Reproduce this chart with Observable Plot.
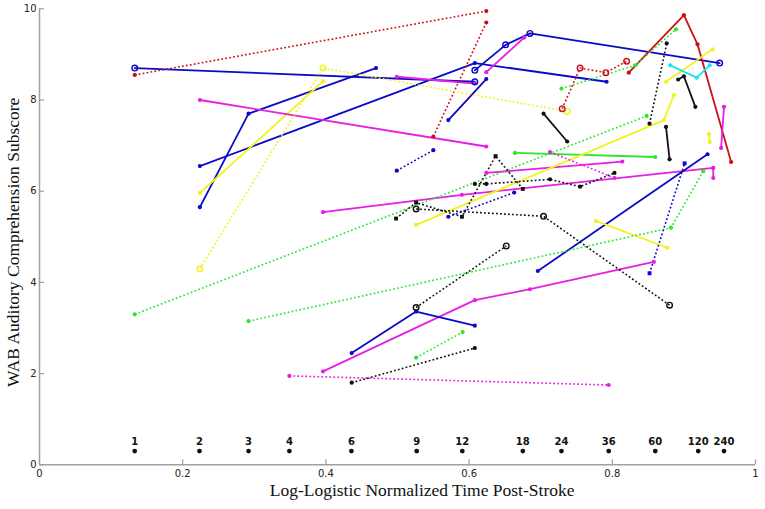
<!DOCTYPE html>
<html><head><meta charset="utf-8">
<script src="https://cdn.jsdelivr.net/npm/d3@7"></script>
<script src="https://cdn.jsdelivr.net/npm/@observablehq/plot@0.6"></script>
<style>body{margin:0;background:#fff}#chart svg{display:block}</style>
</head><body><div id="chart"></div>
<script>
// Each series (patient trajectory): x = normalized time, y = WAB subscore
const seriesX = [
  [0.133,0.624],[0.550,0.624],[0.133,0.608],[0.224,0.608,0.792],
  [0.608,0.651,0.685,0.950],[0.571,0.624],[0.624,0.677],[0.224,0.292,0.470],
  [0.224,0.396],[0.224,0.396,0.737],[0.224,0.624],[0.396,0.590,0.941,0.941],
  [0.133,0.848],[0.292,0.882,0.927],[0.526,0.591],[0.436,0.608],
  [0.349,0.795],[0.396,0.608,0.685,0.858],[0.852,0.901],[0.436,0.526,0.608],
  [0.526,0.652],[0.696,0.933],[0.498,0.526,0.590,0.637,0.675],[0.526,0.704,0.880],
  [0.608,0.624,0.713,0.755,0.803],[0.624,0.814],[0.713,0.803],[0.664,0.860],
  [0.526,0.872,0.886],[0.571,0.663],[0.499,0.550],[0.704,0.737],
  [0.730,0.755,0.791,0.820],[0.729,0.832,0.889],[0.823,0.900,0.919,0.966],[0.852,0.876],
  [0.875,0.940],[0.881,0.918,0.936],[0.892,0.900,0.916],[0.875,0.880],
  [0.935,0.936],[0.956,0.952],[0.777,0.877],[0.499,0.608]
];
const seriesY = [
  [8.55,9.95],[7.20,9.70],[8.70,8.40],[6.55,8.81,8.40],
  [8.65,9.21,9.46,8.81],[7.56,8.46],[8.61,9.37],[5.65,7.70,8.70],
  [5.96,8.41],[4.30,8.70,7.75],[8.00,6.98],[5.54,5.92,6.51,6.29],
  [3.30,7.65],[3.15,5.20,6.44],[2.35,2.91],[1.80,2.56],
  [1.95,1.75],[2.05,3.61,3.85,4.45],[4.20,6.61],[2.45,3.36,3.05],
  [3.45,4.80],[4.25,6.81],[5.40,5.75,5.44,6.77,6.05],[5.61,5.45,3.50],
  [6.16,6.16,6.26,6.10,6.40],[6.40,6.65],[6.86,6.29],[6.84,6.75],
  [5.26,7.56,8.11],[5.44,5.97],[6.45,6.90],[7.70,7.09],
  [7.81,8.70,8.60,8.85],[8.25,8.76,9.55],[8.60,9.86,9.22,6.64],[7.48,9.24],
  [8.40,9.11],[8.76,8.49,8.76],[8.45,8.52,7.85],[7.41,6.70],
  [7.25,7.08],[7.85,6.95],[5.35,4.76],[8.51,8.36]
];
// colour groups: R red, B blue, M magenta, Y yellow, G green, K black, C cyan
const seriesColor = [
  "R","R","B","B","B","B","M","B",
  "Y","Y","M","M","G","G","G","K",
  "M","M","B","B","K","B","K","K",
  "K","M","M","G","Y","B","B","K",
  "R","G","R","K","Y","C","K","K",
  "Y","M","Y","M"
];
const seriesLine = [
  "dotted","dotted","solid","solid","solid","solid","solid","solid",
  "solid","dotted","solid","solid","dotted","dotted","dotted","dotted",
  "dotted","solid","dotted","solid","dotted","solid","dotted","dotted",
  "dotted","solid","dotted","solid","solid","dotted","dotted","solid",
  "dotted","dotted","solid","dotted","solid","solid","solid","solid",
  "solid","solid","solid","solid"
];
const seriesMarker = [
  "dot","dot","circle","dot","circle","dot","dot","dot",
  "dot","circle","dot","dot","dot","dot","dot","dot",
  "dot","dot","square","dot","circle","dot","square","circle",
  "dot","dot","dot","dot","dot","dot","dot","dot",
  "circle","dot","dot","dot","dot","dot","dot","dot",
  "dot","dot","dot","dot"
];
const colorNames = ["R","B","M","Y","G","K","C"];
const colorValues = ["#cc1018","#0a0ac8","#e61ee6","#f2f21c","#2ee62e","#111111","#1ae4f2"];

const timeLabels = ["1","2","3","4","6","9","12","18","24","36","60","120","240"];
const timePos = [0.133,0.2234,0.292,0.349,0.4356,0.5268,0.5905,0.675,0.729,0.795,0.86,0.92,0.956];
const timeMarkY = 0.3;

const xTicks = [0,0.2,0.4,0.6,0.8,1];
const yTicks = [0,2,4,6,8,10];
const xTitle = "Log-Logistic Normalized Time Post-Stroke";
const yTitle = "WAB Auditory Comprehension Subscore";

const rows = seriesX.flatMap((xs,i)=>xs.map((x,j)=>({id:i,x,y:seriesY[i][j],c:seriesColor[i],l:seriesLine[i],m:seriesMarker[i]})));
const timeRows = timeLabels.map((t,i)=>({t,x:timePos[i],y:timeMarkY}));
const sans = "DejaVu Sans, sans-serif";
const serif = "Liberation Serif, Times New Roman, serif";

const chart = Plot.plot({
  width: 765, height: 509,
  marginLeft: 39, marginRight: 10, marginTop: 8.3, marginBottom: 44.7,
  style: {background:"#fff", fontFamily: sans, overflow:"visible"},
  x: {domain:[0,1], axis:null},
  y: {domain:[0,10], axis:null},
  color: {type:"ordinal", domain: colorNames, range: colorValues},
  marks: [
    Plot.ruleY([0], {stroke:"#a0a0a0", strokeWidth:1.5}),
    Plot.ruleX([0], {stroke:"#a0a0a0", strokeWidth:1.5}),
    Plot.axisX(xTicks, {tickSize:-5, text:null, stroke:"#a0a0a0", strokeWidth:1.2, label:null}),
    Plot.axisY(yTicks, {tickSize:-5, text:null, stroke:"#a0a0a0", strokeWidth:1.2, label:null}),
    Plot.axisX(xTicks, {tickSize:0, tickPadding:5, tickFormat:d=>String(d), fontSize:10, fill:"#222", label:null, fontFamily:sans}),
    Plot.axisY(yTicks, {tickSize:0, tickPadding:3, tickFormat:d=>String(d), fontSize:10, fill:"#222", label:null, fontFamily:sans}),
    Plot.text([xTitle], {frameAnchor:"bottom-left", dx:382.6, dy:30.7, textAnchor:"middle", fontFamily:serif, fontSize:17.5, fill:"#111"}),
    Plot.text([yTitle], {frameAnchor:"left", dx:-26.3, dy:5.5, rotate:-90, textAnchor:"middle", fontFamily:serif, fontSize:17.5, fill:"#111"}),
    Plot.line(rows.filter(d=>d.l==="solid"), {x:"x", y:"y", z:"id", stroke:"c", strokeWidth:1.8}),
    Plot.line(rows.filter(d=>d.l==="dotted"), {x:"x", y:"y", z:"id", stroke:"c", strokeWidth:1.6, strokeDasharray:"1.8,2.2", strokeLinecap:"butt"}),
    Plot.dot(rows.filter(d=>d.m==="dot"), {x:"x", y:"y", fill:"c", r:2.1}),
    Plot.dot(rows.filter(d=>d.m==="circle"), {x:"x", y:"y", stroke:"c", fill:"none", r:2.8, strokeWidth:1.4}),
    Plot.dot(rows.filter(d=>d.m==="square"), {x:"x", y:"y", fill:"c", symbol:"square", r:2.2}),
    Plot.dot(timeRows, {x:"x", y:"y", fill:"#111", r:2.4}),
    Plot.text(timeRows, {x:"x", y:"y", text:"t", dy:-9, fontSize:10, fontFamily:sans, fill:"#111", fontWeight:"bold"})
  ]
});
document.getElementById("chart").appendChild(chart);
</script>
</body></html>
